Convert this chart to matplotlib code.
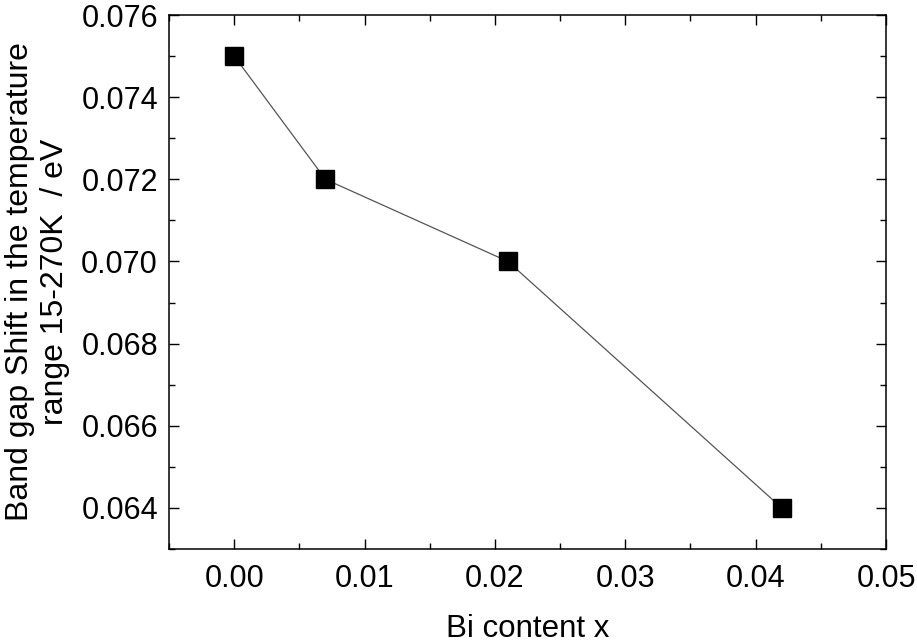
import matplotlib
matplotlib.use('Agg')
import matplotlib.pyplot as plt
from matplotlib.ticker import MultipleLocator, FormatStrFormatter

# data
bi_content = [0.0, 0.007, 0.021, 0.042]
gap_shift = [0.075, 0.072, 0.070, 0.064]

plt.rcParams['font.family'] = ['Liberation Sans', 'DejaVu Sans']

fig = plt.figure(figsize=(9.17, 6.42), dpi=100)
ax = fig.add_axes([0.1843, 0.1449, 0.9662 - 0.1843, 0.9766 - 0.1449])

ax.plot(bi_content, gap_shift, color='#555555', linewidth=0.9,
        marker='s', markersize=13.5, markerfacecolor='black',
        markeredgecolor='black')

ax.set_xlim(-0.005, 0.05)
ax.set_ylim(0.063, 0.076)

ax.xaxis.set_major_locator(MultipleLocator(0.01))
ax.xaxis.set_minor_locator(MultipleLocator(0.005))
ax.yaxis.set_major_locator(MultipleLocator(0.002))
ax.yaxis.set_minor_locator(MultipleLocator(0.001))
ax.xaxis.set_major_formatter(FormatStrFormatter('%.2f'))
ax.yaxis.set_major_formatter(FormatStrFormatter('%.3f'))

ax.tick_params(which='both', direction='in', top=True, right=True,
               width=1.0, labelsize=22)
ax.tick_params(axis='x', which='major', length=7, pad=11)
ax.tick_params(axis='y', which='major', length=7, pad=8)
ax.tick_params(which='minor', length=4.5)
for s in ax.spines.values():
    s.set_linewidth(1.1)

ax.set_xlabel('Bi content x', fontsize=22.5, labelpad=14)
ax.set_ylabel('Band gap Shift in the temperature\nrange 15-270K  / eV',
              fontsize=23, labelpad=8, linespacing=1.2)

fig.savefig('out.png', dpi=100)
